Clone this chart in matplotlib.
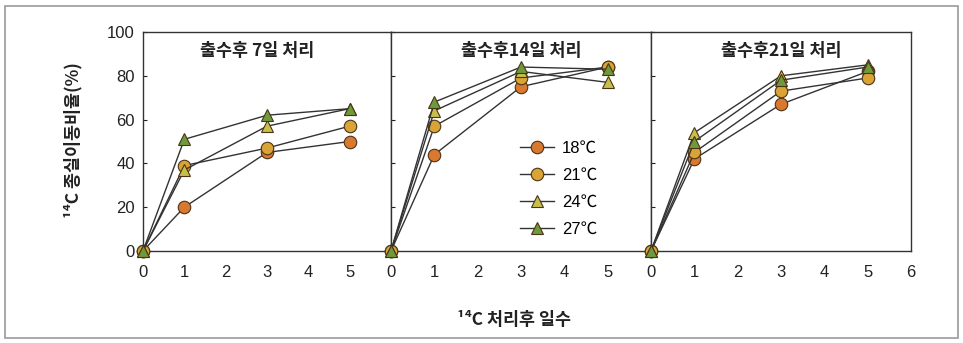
import matplotlib
matplotlib.use("Agg")
import matplotlib.pyplot as plt
from matplotlib.patches import Rectangle
from matplotlib.lines import Line2D

plt.rcParams['font.family'] = ['Liberation Sans', 'Noto Sans CJK KR', 'DejaVu Sans']

days = [0, 1, 3, 5]
panel_titles = ["출수후 7일 처리", "출수후14일 처리", "출수후21일 처리"]
temps = ["18℃", "21℃", "24℃", "27℃"]

p7_18 = [0, 20, 45, 50]
p7_21 = [0, 39, 47, 57]
p7_24 = [0, 37, 57, 65]
p7_27 = [0, 51, 62, 65]

p14_18 = [0, 44, 75, 84]
p14_21 = [0, 57, 79, 84]
p14_24 = [0, 64, 82, 77]
p14_27 = [0, 68, 84, 83]

p21_18 = [0, 42, 67, 82]
p21_21 = [0, 45, 73, 79]
p21_24 = [0, 54, 80, 85]
p21_27 = [0, 50, 78, 84]

panels = [[p7_18, p7_21, p7_24, p7_27],
          [p14_18, p14_21, p14_24, p14_27],
          [p21_18, p21_21, p21_24, p21_27]]

styles = [dict(marker='o', mfc='#d9782f'),
          dict(marker='o', mfc='#d9a435'),
          dict(marker='^', mfc='#c6c04a'),
          dict(marker='^', mfc='#6f9a3c')]

W, H = 963, 343
fig = plt.figure(figsize=(W / 100, H / 100), dpi=100)
fig.patches.append(Rectangle((5 / W, 5 / H), 953 / W, 332 / H, transform=fig.transFigure,
                             fill=False, edgecolor='#9a9a9a', linewidth=1.2))

bottom = 1 - 251 / H
top = 1 - 32 / H
bounds = [(143, 391), (391, 651), (651, 911)]
title_x = [0.46, 0.5, 0.5]
axes = []
for i, (x0, x1) in enumerate(bounds):
    ax = fig.add_axes([x0 / W, bottom, (x1 - x0) / W, top - bottom])
    axes.append(ax)
    for s, vals in enumerate(panels[i]):
        ax.plot(days, vals, color='#333333', lw=1.0, ms=9, mec='#4a3418', mew=0.8,
                clip_on=False, zorder=3 + s, **styles[s])
    ax.set_xlim(0, 6)
    ax.set_ylim(0, 100)
    ax.set_yticks([0, 20, 40, 60, 80, 100])
    if i < 2:
        ax.set_xticks([0, 1, 2, 3, 4, 5])
    else:
        ax.set_xticks([0, 1, 2, 3, 4, 5, 6])
    ax.tick_params(direction='in', length=3, labelsize=12, colors='#222222')
    ax.tick_params(axis='x', pad=10, length=0)
    ax.tick_params(axis='y', pad=6)
    if i > 0:
        ax.tick_params(axis='y', labelleft=False)
    for sp in ax.spines.values():
        sp.set_color('#333333')
        sp.set_linewidth(1.0)
    ax.text(title_x[i], 0.915, panel_titles[i], transform=ax.transAxes, ha='center', va='center',
            fontsize=12.5, fontweight='bold', color='#222222',
            family=['Noto Sans CJK KR', 'DejaVu Sans'])

handles = [Line2D([], [], color='#333333', lw=1.0, ms=9, mec='#4a3418', mew=0.8, **styles[s])
           for s in range(4)]
axes[1].legend(handles, temps, loc='center left', bbox_to_anchor=(0.44, 0.285), frameon=False,
               fontsize=12, handlelength=2.0, labelspacing=0.72, handletextpad=0.5)

fig.text(73 / W, 1 - 140 / H, "¹⁴C 종실이동비율(%)", rotation=90, ha='center', va='center',
         fontsize=12.5, fontweight='bold', color='#222222',
         family=['Noto Sans CJK KR', 'DejaVu Sans'])
fig.text(514 / W, 1 - 320 / H, "¹⁴C 처리후 일수", ha='center', va='center',
         fontsize=12.5, fontweight='bold', color='#222222',
         family=['Noto Sans CJK KR', 'DejaVu Sans'])

fig.savefig("out.png", dpi=100)
